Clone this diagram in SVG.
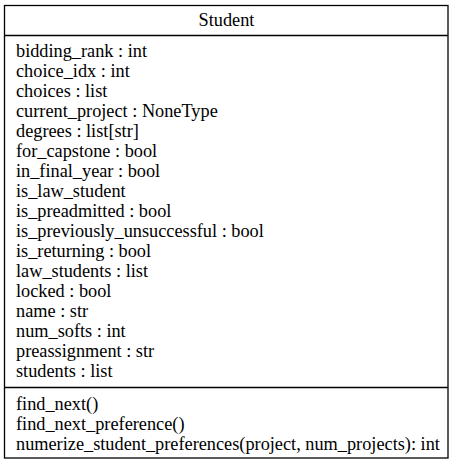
<svg xmlns="http://www.w3.org/2000/svg" width="453" height="464" viewBox="0 0 453 464">
  <style>
    .box { fill: #ffffff; stroke: #000000; stroke-width: 1.3; }
    .sep { stroke: #000000; stroke-width: 1.3; }
    .title { text-anchor: middle; }
  </style>
  <rect width="453" height="464" fill="#ffffff"/>
  <g id="Student" font-family="Liberation Serif" font-size="18.3" fill="#000000">
    <rect class="box" x="4.5" y="5.5" width="443.5" height="452.5"/>
    <text class="title" x="226.5" y="25.5">Student</text>
    <line class="sep" x1="4.5" y1="35.5" x2="448" y2="35.5"/>
    <text x="16" y="57">bidding_rank : int</text>
    <text x="16" y="77">choice_idx : int</text>
    <text x="16" y="97">choices : list</text>
    <text x="16" y="117">current_project : NoneType</text>
    <text x="16" y="137">degrees : list[str]</text>
    <text x="16" y="157">for_capstone : bool</text>
    <text x="16" y="177">in_final_year : bool</text>
    <text x="16" y="197">is_law_student</text>
    <text x="16" y="217">is_preadmitted : bool</text>
    <text x="16" y="237">is_previously_unsuccessful : bool</text>
    <text x="16" y="257">is_returning : bool</text>
    <text x="16" y="277">law_students : list</text>
    <text x="16" y="297">locked : bool</text>
    <text x="16" y="317">name : str</text>
    <text x="16" y="337">num_softs : int</text>
    <text x="16" y="357">preassignment : str</text>
    <text x="16" y="377">students : list</text>
    <line class="sep" x1="4.5" y1="387.5" x2="448" y2="387.5"/>
    <text x="16" y="409.5">find_next()</text>
    <text x="16" y="429.5">find_next_preference()</text>
    <text x="16" y="449.5">numerize_student_preferences(project, num_projects): int</text>
  </g>
  <g id="connectors"/>
</svg>
